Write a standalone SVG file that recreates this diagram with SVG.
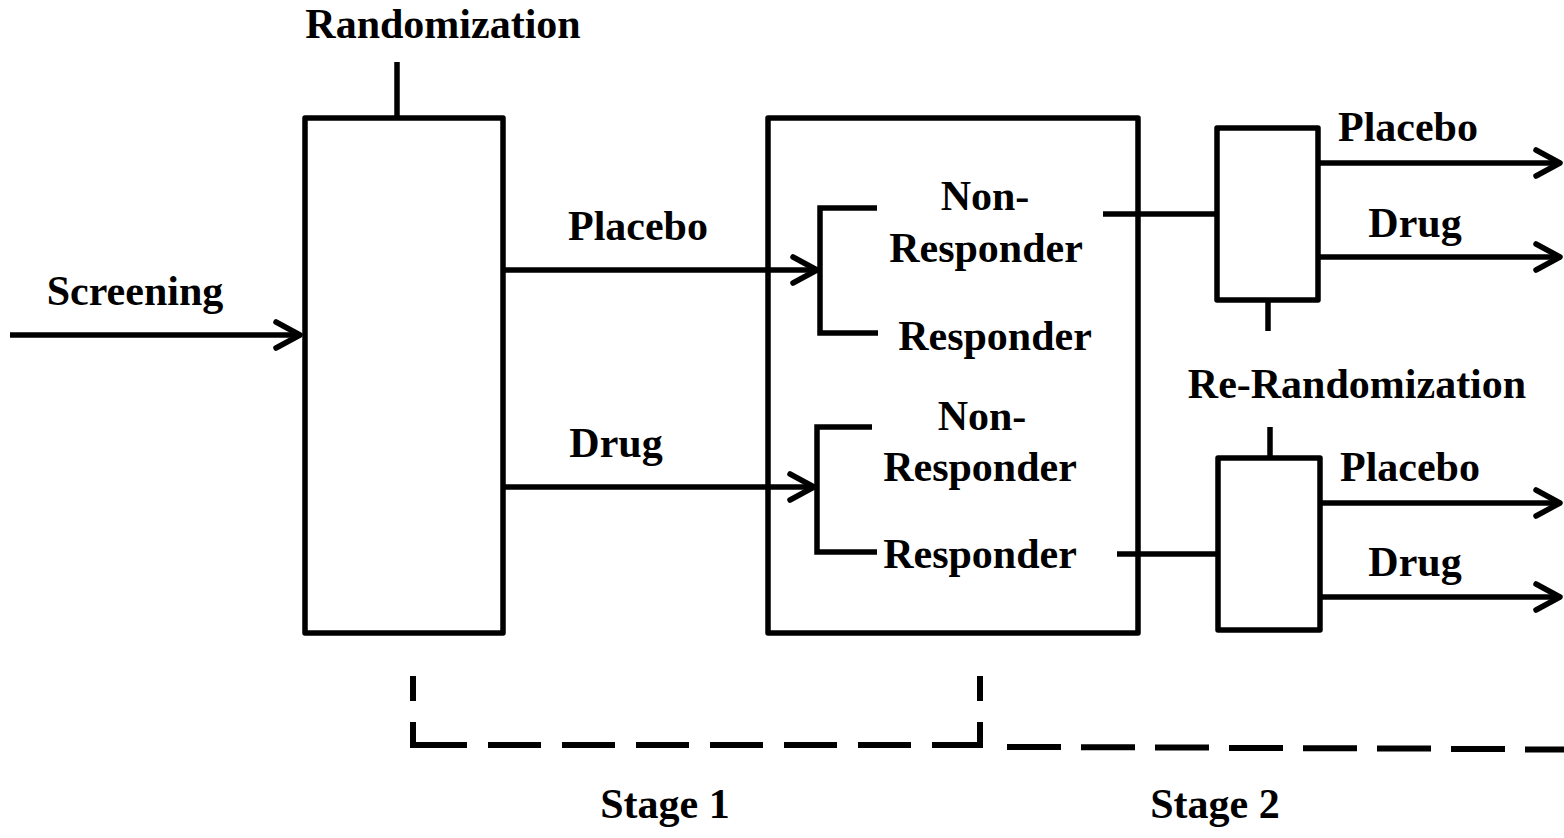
<svg xmlns="http://www.w3.org/2000/svg" width="1564" height="838" viewBox="0 0 1564 838">
<style>
text{font-family:"Liberation Serif","Times New Roman",serif;font-weight:bold;font-size:42px;fill:#000;text-anchor:middle}
.box{fill:none;stroke:#000;stroke-width:5.5;stroke-linejoin:round}
.ln{fill:none;stroke:#000;stroke-width:5.5}
.arr{fill:none;stroke:#000;stroke-width:5.5;marker-end:url(#ah)}
.dash{fill:none;stroke:#000;stroke-width:6}
</style>
<defs>
<marker id="ah" markerUnits="userSpaceOnUse" viewBox="-30 -16 34 32" refX="0" refY="0" markerWidth="34" markerHeight="32" orient="auto" overflow="visible">
<path d="M-24,-13 L0,0 L-24,13" fill="none" stroke="#000" stroke-width="5.5" stroke-linecap="round" stroke-linejoin="round"/>
</marker>
</defs>
<g id="connectors">
<line class="arr" x1="10" y1="335" x2="300" y2="335"/>
<line class="ln" x1="397" y1="62" x2="397" y2="118"/>
<line class="arr" x1="503" y1="270" x2="817" y2="270"/>
<line class="arr" x1="503" y1="487" x2="814" y2="487"/>
<path class="ln" d="M877,208 H820 V333 H878"/>
<path class="ln" d="M872,427 H817 V552 H877"/>
<line class="ln" x1="1103" y1="214" x2="1217" y2="214"/>
<line class="ln" x1="1117" y1="554" x2="1218" y2="554"/>
<line class="ln" x1="1268" y1="300" x2="1268" y2="331"/>
<line class="ln" x1="1270" y1="427" x2="1270" y2="458"/>
<line class="arr" x1="1318" y1="163" x2="1560" y2="163"/>
<line class="arr" x1="1318" y1="257" x2="1560" y2="257"/>
<line class="arr" x1="1320" y1="503" x2="1560" y2="503"/>
<line class="arr" x1="1320" y1="597" x2="1560" y2="597"/>
</g>
<g id="stage-brackets">
<line class="dash" x1="413" y1="676" x2="413" y2="701"/>
<line class="dash" x1="413" y1="722" x2="413" y2="745"/>
<line class="dash" x1="980" y1="676" x2="980" y2="701"/>
<line class="dash" x1="980" y1="722" x2="980" y2="745"/>
<path class="dash" d="M410,745 H467 M488,745 H541 M562,745 H615 M636,745 H689 M710,745 H763 M784,745 H837 M858,745 H911 M932,745 H983"/>
<path class="dash" d="M1007,747 H1061 M1081,747.3 H1135 M1155,747.6 H1209 M1229,748 H1283 M1303,748.3 H1357 M1377,748.6 H1431 M1451,749 H1505 M1525,749.4 H1564"/>
</g>
<g id="screening"><text x="135" y="305">Screening</text></g>
<g id="randomization">
<text x="443" y="38">Randomization</text>
<rect class="box" x="305" y="118" width="198" height="515"/>
</g>
<g id="stage1-labels">
<text x="638" y="240">Placebo</text>
<text x="616" y="457">Drug</text>
</g>
<g id="response-box">
<rect class="box" x="768" y="118" width="370" height="515"/>
<text x="985" y="210">Non-</text>
<text x="986" y="262">Responder</text>
<text x="995" y="350">Responder</text>
<text x="982" y="430">Non-</text>
<text x="980" y="481">Responder</text>
<text x="980" y="568">Responder</text>
</g>
<g id="rerandom-top">
<rect class="box" x="1217" y="128" width="101" height="172"/>
<text x="1408" y="141">Placebo</text>
<text x="1415" y="237">Drug</text>
</g>
<g id="rerandom-label"><text x="1357" y="398">Re-Randomization</text></g>
<g id="rerandom-bottom">
<rect class="box" x="1218" y="458" width="102" height="172"/>
<text x="1410" y="481">Placebo</text>
<text x="1415" y="576">Drug</text>
</g>
<g id="stages">
<text x="665" y="818">Stage 1</text>
<text x="1215" y="818">Stage 2</text>
</g>
</svg>
